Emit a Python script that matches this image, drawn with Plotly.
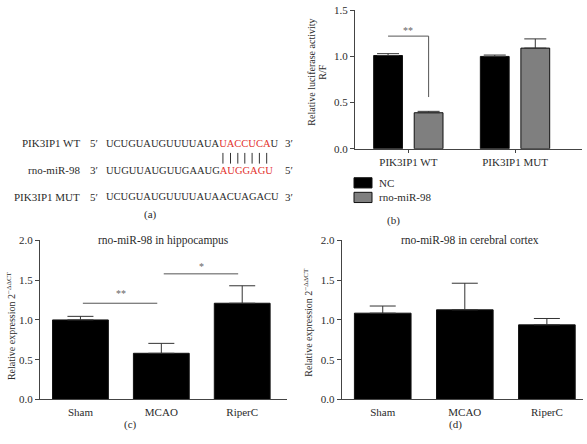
import plotly.graph_objects as go

# ---------------- data ----------------
b_groups = ["PIK3IP1 WT", "PIK3IP1 MUT"]
b_series = ["NC", "rno-miR-98"]
b_nc = [1.01, 1.00]
b_nc_err = [0.02, 0.015]
b_mir = [0.39, 1.09]
b_mir_err = [0.015, 0.10]
b_yticks = [0.0, 0.5, 1.0, 1.5]

cd_groups = ["Sham", "MCAO", "RiperC"]
c_vals = [1.00, 0.58, 1.21]
c_err = [0.045, 0.125, 0.22]
d_vals = [1.085, 1.127, 0.938]
d_err = [0.09, 0.335, 0.08]
cd_yticks = [0.0, 0.5, 1.0, 1.5, 2.0]

seq_labels = ["PIK3IP1 WT", "rno-miR-98", "PIK3IP1 MUT"]
seq_left_end = ["5′", "3′", "5′"]
seq_right_end = ["3′", "5′", "3′"]
seq_prefix = ["UCUGUAUGUUUUAUA", "UUGUUAUGUUGAAUG", "UCUGUAUGUUUUAUAACUAGACU"]
seq_seed = ["UACCUCA", "AUGGAGU", ""]
seq_suffix = ["U", "", ""]

# ---------------- helpers ----------------
W, H = 587, 444
FONT = "Liberation Serif"
TXT = "#2b2b2b"
AX = "#444444"
RED = "#e3312c"


def px(x):
    return x / W


def py(y):
    return 1 - y / H


fig = go.Figure()

# ---------------- panel b ----------------
bw = 0.27
off_nc, off_mir = -0.325, 0.055
fig.add_trace(go.Bar(
    x=b_groups, y=b_nc, name=b_series[0], width=bw, offset=off_nc,
    marker=dict(color="black", line=dict(color="#111", width=1)),
    error_y=dict(type="data", array=b_nc_err, arrayminus=[0] * len(b_nc), symmetric=False,
                 color="#333", thickness=1, width=11),
    xaxis="x", yaxis="y", showlegend=False))
fig.add_trace(go.Bar(
    x=b_groups, y=b_mir, name=b_series[1], width=bw, offset=off_mir,
    marker=dict(color="#7f7f7f", line=dict(color="#111", width=1)),
    error_y=dict(type="data", array=b_mir_err, arrayminus=[0] * len(b_mir), symmetric=False,
                 color="#333", thickness=1, width=11),
    xaxis="x", yaxis="y", showlegend=False))

# ---------------- panels c, d ----------------
cw = 0.69
fig.add_trace(go.Bar(
    x=cd_groups, y=c_vals, width=cw,
    marker=dict(color="black", line=dict(color="#111", width=1)),
    error_y=dict(type="data", array=c_err, arrayminus=[0] * len(c_vals), symmetric=False,
                 color="#333", thickness=1, width=13),
    xaxis="x2", yaxis="y2", showlegend=False))
fig.add_trace(go.Bar(
    x=cd_groups, y=d_vals, width=cw,
    marker=dict(color="black", line=dict(color="#111", width=1)),
    error_y=dict(type="data", array=d_err, arrayminus=[0] * len(d_vals), symmetric=False,
                 color="#333", thickness=1, width=13),
    xaxis="x3", yaxis="y3", showlegend=False))

ax_common = dict(showline=True, linecolor=AX, linewidth=1, showgrid=False, zeroline=False,
                 tickfont=dict(family=FONT, size=11, color=TXT), fixedrange=True,
                 tickcolor=AX, tickwidth=1)

layout_axes = dict(
    xaxis=dict(ax_common, domain=[px(355), px(581.7)], anchor="y", range=[-0.5, 1.625],
               ticks="outside", ticklen=3, type="category"),
    yaxis=dict(ax_common, domain=[py(146.7), py(4.4)], anchor="x", range=[0, 1.5],
               tickvals=b_yticks, tickformat=".1f", ticks="outside", ticklen=4),
    xaxis2=dict(ax_common, domain=[px(40), px(286.7)], anchor="y2", range=[-0.5, 2.55],
                ticks="", type="category", ticklabelstandoff=2),
    yaxis2=dict(ax_common, domain=[py(404.3), py(241)], anchor="x2", range=[0, 2.0],
                tickvals=cd_yticks, tickformat=".1f", ticks="outside", ticklen=4),
    xaxis3=dict(ax_common, domain=[px(341.7), px(583)], anchor="y3", range=[-0.5, 2.44],
                ticks="", type="category", ticklabelstandoff=2),
    yaxis3=dict(ax_common, domain=[py(404.3), py(241)], anchor="x3", range=[0, 2.0],
                tickvals=cd_yticks, tickformat=".1f", ticks="outside", ticklen=4),
)

shapes = []
annotations = []

# significance bracket panel b
c_nc = off_nc + bw / 2
c_mir = off_mir + bw / 2
shapes.append(dict(type="line", xref="x", yref="y", x0=c_nc, x1=c_mir, y0=1.22, y1=1.22,
                   line=dict(color="#555", width=1)))
shapes.append(dict(type="line", xref="x", yref="y", x0=c_mir, x1=c_mir, y0=1.22, y1=0.56,
                   line=dict(color="#555", width=1)))
annotations.append(dict(text="**", xref="x", yref="y", x=0, y=1.28, showarrow=False,
                        font=dict(family=FONT, size=10, color="#666")))

# significance lines panel c
shapes.append(dict(type="line", xref="x2", yref="y2", x0=0.03, x1=0.95, y0=1.21, y1=1.21,
                   line=dict(color="#555", width=1)))
shapes.append(dict(type="line", xref="x2", yref="y2", x0=1.03, x1=1.95, y0=1.58, y1=1.58,
                   line=dict(color="#555", width=1)))
annotations.append(dict(text="**", xref="x2", yref="y2", x=0.5, y=1.33, showarrow=False,
                        font=dict(family=FONT, size=10, color="#666")))
annotations.append(dict(text="*", xref="x2", yref="y2", x=1.5, y=1.67, showarrow=False,
                        font=dict(family=FONT, size=10, color="#666")))

# legend panel b (swatches)
shapes.append(dict(type="rect", xref="paper", yref="paper", x0=px(354), x1=px(372),
                   y0=py(187), y1=py(176.5), fillcolor="black", line=dict(color="#111", width=1)))
shapes.append(dict(type="rect", xref="paper", yref="paper", x0=px(354), x1=px(372),
                   y0=py(202), y1=py(191.5), fillcolor="#7f7f7f", line=dict(color="#111", width=1)))
for name, yy in zip(b_series, [181.7, 196.7]):
    annotations.append(dict(text=name, xref="paper", yref="paper", x=px(377), y=py(yy),
                            xanchor="left", yanchor="middle", showarrow=False,
                            font=dict(family=FONT, size=11, color=TXT)))


def ann(text, x, y, size=11, xanchor="center", angle=0, color=TXT):
    annotations.append(dict(text=text, xref="paper", yref="paper", x=px(x), y=py(y),
                            xanchor=xanchor, yanchor="middle", showarrow=False, textangle=angle,
                            font=dict(family=FONT, size=size, color=color)))


# axis titles
ann("Relative luciferase activity", 311.5, 68, size=10, angle=-90)
ann("R/F", 322.5, 68, size=10, angle=-90)
ann("Relative expression 2<sup>−ΔΔCT</sup>", 11, 329, size=10, angle=-90)
ann("Relative expression 2<sup>−ΔΔCT</sup>", 308.5, 325, size=10, angle=-90)
ann("rno-miR-98 in hippocampus", 163, 241, size=11.5)
ann("rno-miR-98 in cerebral cortex", 470, 241, size=11.5)

# panel labels
ann("(a)", 150, 214)
ann("(b)", 393, 220)
ann("(c)", 130, 430)
ann("(d)", 455, 430)

# panel a: sequences
seq_y = [141, 169, 196]
fs = 10.5
for lab, le, re_, pre, seed, suf, yy in zip(seq_labels, seq_left_end, seq_right_end,
                                            seq_prefix, seq_seed, seq_suffix, seq_y):
    ann(lab, 82, yy, size=11, xanchor="right")
    ann(le, 88, yy, size=11, xanchor="left")
    txt = pre + (f'<span style="color:{RED}">{seed}</span>' if seed else "") + suf
    ann(txt, 104, yy, size=fs, xanchor="left")
    ann(re_, 283, yy, size=11, xanchor="left")

# pairing bars, placed at the centres of the seed letters (Times metrics)
em = {"U": 0.722, "A": 0.722, "C": 0.667, "G": 0.722}
xpos = 104 + 2 + sum(em[ch] for ch in seq_prefix[0]) * fs
for ch in seq_seed[0]:
    w = em[ch] * fs
    xc = xpos + w / 2
    shapes.append(dict(type="line", xref="paper", yref="paper", x0=px(xc), x1=px(xc),
                       y0=py(162), y1=py(151), line=dict(color="#333", width=1)))
    xpos += w

fig.update_layout(
    width=W, height=H, autosize=False,
    margin=dict(l=0, r=0, t=0, b=0),
    paper_bgcolor="white", plot_bgcolor="white",
    barmode="overlay", showlegend=False,
    shapes=shapes, annotations=annotations,
    font=dict(family=FONT, color=TXT),
    **layout_axes,
)

fig.write_html("out.html",
               config={"displayModeBar": False},
               post_script="document.body.style.margin='0';document.body.style.padding='0';")
